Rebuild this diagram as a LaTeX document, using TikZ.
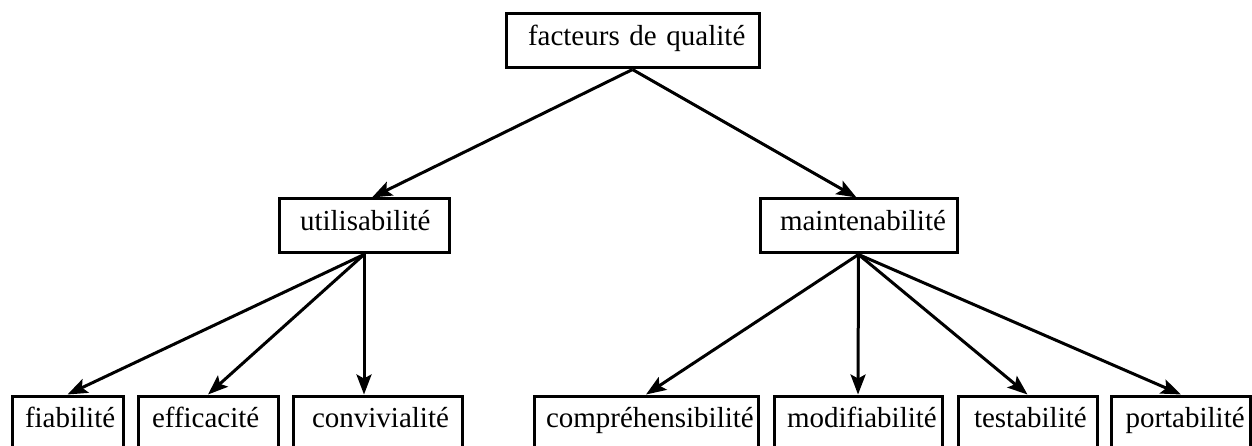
\documentclass[tikz,border=0pt]{standalone}
\usepackage{fontspec}
\setmainfont{Liberation Serif}
\usetikzlibrary{arrows.meta}
\begin{document}
\begin{tikzpicture}[x=1pt,y=-1pt,
  box/.style 2 args={draw, line width=3pt, rectangle, inner xsep=#2pt, inner ysep=0pt,
    text width=#1pt-2*#2pt, align=left, minimum height=54pt,
    text height=1.05em, text depth=0.15em,
    font=\fontsize{29}{34}\selectfont},
  link/.style={line width=3pt, -{Stealth[length=20pt,width=15pt,inset=4pt]}}]
\useasboundingbox (0,0) rectangle (1252,446);
\node[box={253}{22}] (top) at (632.5,41) {\mbox{facteurs de qualité}};
\node[box={170}{21}] (util) at (364,226) {\mbox{utilisabilité}};
\node[box={197}{20}] (maint) at (858.5,226) {\mbox{maintenabilité}};
\node[box={111}{13}] (fiab) at (67.5,423) {\mbox{fiabilité}};
\node[box={140}{14}] (effic) at (208,423) {\mbox{efficacité}};
\node[box={169}{19}] (conv) at (377.5,423) {\mbox{convivialité}};
\node[box={224}{12}] (compr) at (646,423) {\mbox{compréhensibilité}};
\node[box={168}{13}] (modif) at (858,423) {\mbox{modifiabilité}};
\node[box={139}{16}] (testa) at (1027.5,423) {\mbox{testabilité}};
\node[box={139}{14}] (porta) at (1181,423) {\mbox{portabilité}};
\draw[link] (top.south) -- ([xshift=8pt]util.north);
\draw[link] (top.south) -- ([xshift=-2pt]maint.north);
\draw[link] (util.south) -- (fiab.north);
\draw[link] (util.south) -- (effic.north);
\draw[link] (util.south) -- (util.south |- conv.north);
\draw[link] (maint.south) -- (compr.north);
\draw[link] (maint.south) -- (modif.north);
\draw[link] (maint.south) -- (testa.north);
\draw[link] (maint.south) -- (porta.north);
\end{tikzpicture}
\end{document}
